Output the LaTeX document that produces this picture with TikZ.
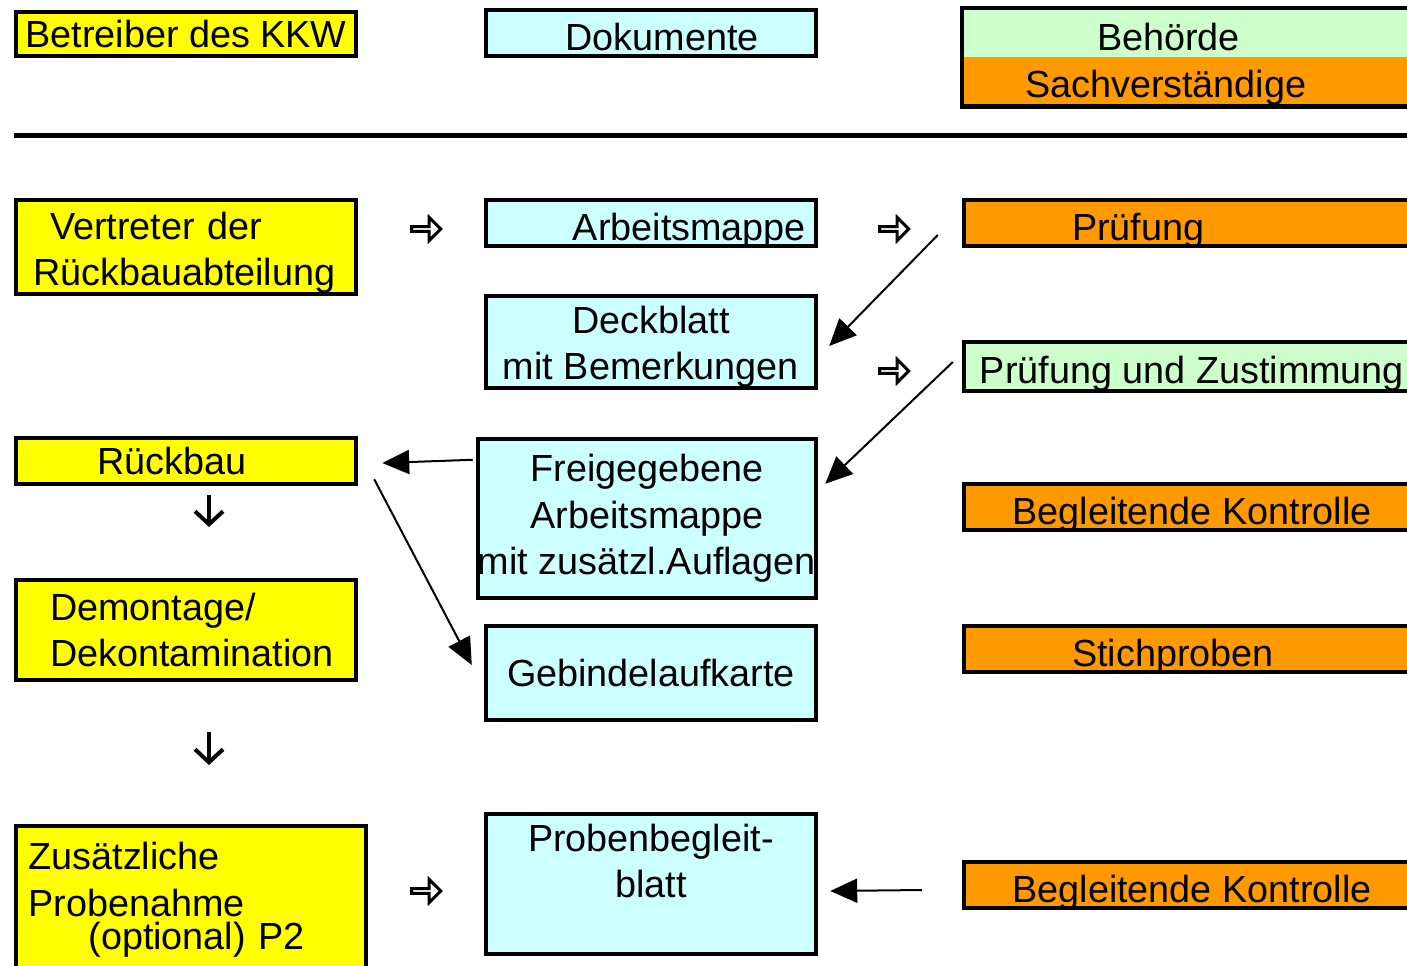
\documentclass[tikz,border=0pt]{standalone}
\usepackage{fontspec}
\setmainfont{Liberation Sans}
\usetikzlibrary{arrows.meta,shapes.arrows}
\definecolor{gelb}{HTML}{FFFF00}
\definecolor{hellblau}{HTML}{CCFFFF}
\definecolor{hellgruen}{HTML}{CCFFCC}
\definecolor{amber}{HTML}{FF9900}
\begin{document}
\begin{tikzpicture}[x=0.02cm,y=-0.02cm,
    box/.style={draw,line width=0.09cm,inner sep=0pt,font=\fontsize{21.5}{26.5}\selectfont},
    tief/.style={text height=0.78cm,text depth=0.1cm},
    links/.style={box,fill=gelb,minimum width=6.8cm},
    mitte/.style={box,fill=hellblau,minimum width=6.6cm},
    rechts/.style={box,minimum width=9.12cm},
    pfeil/.style={line width=0.04cm,-{Triangle[length=0.54cm,width=0.48cm]}},
    hohl/.style={single arrow,draw,line width=0.06cm,fill=white,minimum height=0.58cm,
        minimum width=0.46cm,single arrow head extend=0.12cm,inner sep=0pt},
    runter/.style={line width=0.08cm,-{Straight Barb[length=0.26cm,width=0.56cm,line width=0.08cm]}}]
    \useasboundingbox(0,0)rectangle(1407,965);
    \clip(0,0)rectangle(1407,965);
    % Kopfzeile
    \node[links,minimum height=0.88cm](betreiber)at(186,34){Betreiber des KKW};
    \node[mitte,tief,minimum height=0.92cm](dokumente)at(651,33){\hspace*{0.44cm}Dokumente};
    \node[rechts,tief,draw=none,fill=hellgruen,minimum height=0.94cm,align=left,text width=3.8cm](behoerde)at(1192,33.5){Behörde};
    \node[rechts,tief,draw=none,fill=amber,minimum height=0.94cm,align=left,text width=6.68cm](sachv)at(1192,80.5){Sachverständige};
    \draw[line width=0.09cm](behoerde.north west)rectangle(sachv.south east);
    \coordinate(trennl)at(14,135);
    \coordinate(trennr)at(1407,135);
    \draw[line width=0.1cm](trennl)--(trennr);
    % linke Spalte
    \node[links,minimum height=1.88cm,align=left,text width=6.12cm](vertreter)at(186,247){\rule{0pt}{0.78cm}\hspace*{0.34cm}Vertreter der\\Rückbauabteilung};
    \node[links,minimum height=0.92cm,align=left,text width=3.56cm](rueckbau)at(186,461){Rückbau};
    \node[links,minimum height=2cm,align=left,text width=5.44cm](demontage)at(186,630){Demontage/\\Dekontamination};
    \node[links,minimum width=7cm,minimum height=2.96cm,align=left,text width=6.5cm](zusatz)at(191,900){Zusätzliche\\Probenahme\\[-0.27cm]\hspace*{1.2cm}(optional) P2};
    % mittlere Spalte
    \node[mitte,tief,minimum height=0.92cm,align=right,text width=6.2cm](arbeitsmappe)at(651,223){Arbeitsmappe};
    \node[mitte,minimum height=1.84cm,align=center](deckblatt)at(651,342){\rule{0pt}{0.74cm}Deckblatt\\mit Bemerkungen};
    \node[mitte,minimum width=6.68cm,minimum height=3.18cm,align=center](freigabe)at(647,518.5){Freigegebene\\Arbeitsmappe\\mit zusätzl.Auflagen};
    \node[mitte,minimum height=1.88cm](gebinde)at(651,673){Gebindelaufkarte};
    \node[mitte,minimum height=2.8cm,align=center](probenblatt)at(651,884){Probenbegleit-\\blatt\\\mbox{}};
    % rechte Spalte
    \node[rechts,tief,fill=amber,minimum height=0.92cm,align=left,text width=4.8cm](pruefung)at(1192,223){Prüfung};
    \node[rechts,tief,fill=hellgruen,minimum height=0.98cm](zustimmung)at(1192,366.5){Prüfung und Zustimmung};
    \node[rechts,tief,fill=amber,minimum height=0.92cm](kontrolle)at(1192,507){Begleitende Kontrolle};
    \node[rechts,tief,fill=amber,minimum height=0.92cm,align=left,text width=4.8cm](stichproben)at(1192,649){Stichproben};
    \node[rechts,tief,fill=amber,minimum height=0.92cm](kontrolleb)at(1192,885){Begleitende Kontrolle};
    % Pfeile
    \node[hohl](h1)at(425,229){};
    \node[hohl](h2)at(893,229){};
    \node[hohl](h3)at(893,371){};
    \node[hohl](h4)at(425,891){};
    \coordinate(d1o)at(209,495);
    \coordinate(d1u)at(209,527);
    \coordinate(d2o)at(209,732);
    \coordinate(d2u)at(209,765);
    \draw[runter](d1o)--(d1u);
    \draw[runter](d2o)--(d2u);
    \draw[pfeil]([shift={(-24,12)}]pruefung.west)--([shift={(11,4)}]deckblatt.east);
    \draw[pfeil]([shift={(-9,-4.5)}]zustimmung.west)--([shift={(7,47)}]freigabe.north east);
    \draw[pfeil]([shift={(-3,23)}]freigabe.north west)--([shift={(24,2)}]rueckbau.east);
    \draw[pfeil]([shift={(16,-7)}]rueckbau.south east)--([shift={(-12,-8)}]gebinde.west);
    \draw[pfeil]([shift={(-40,5)}]kontrolleb.west)--([shift={(12,7)}]probenblatt.east);
\end{tikzpicture}
\end{document}
